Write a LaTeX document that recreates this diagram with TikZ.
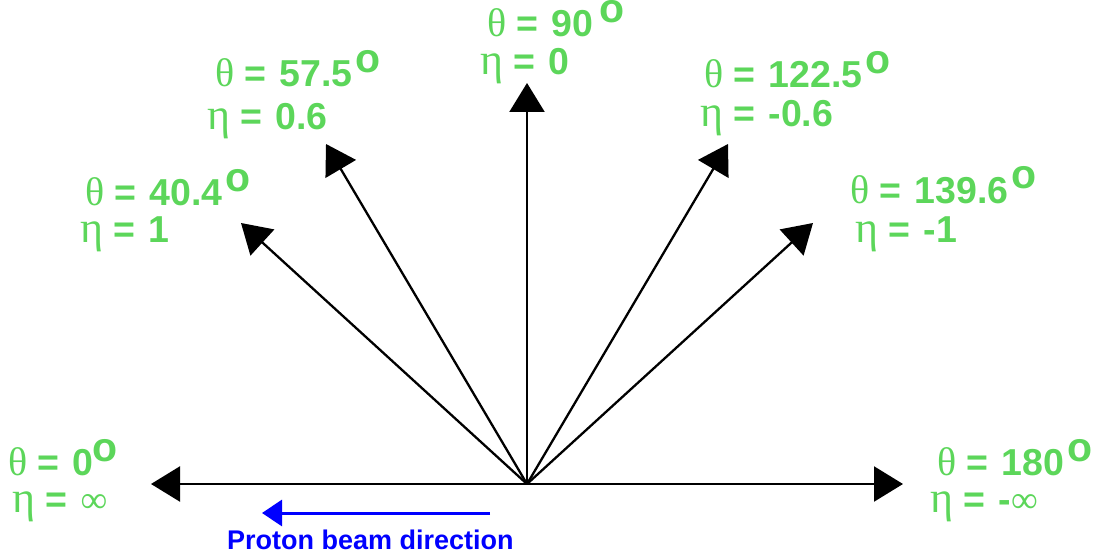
\documentclass[tikz,border=0pt]{standalone}
\usepackage{fontspec}
\setmainfont{Liberation Sans}
\newfontfamily\symf{Liberation Serif}
\usetikzlibrary{arrows.meta}
\definecolor{labgreen}{RGB}{92,214,90}
\definecolor{beamblue}{RGB}{0,0,255}
\newcommand\degsup[1][3pt]{\hspace{#1}\raisebox{14pt}{\fontsize{41}{41}\selectfont o}}
\newcommand\thx{{\symf\mdseries\fontsize{40}{40}\selectfont θ}\hspace{10pt}=\hspace{13.5pt}}
\newcommand\etx{{\symf\mdseries\fontsize{44}{44}\selectfont η}\hspace{10pt}=\hspace{13.5pt}}
\newcommand\infx{{\symf\mdseries ∞}}
\tikzset{
  lab/.style={text=labgreen, font=\bfseries\fontsize{37.5}{39}\selectfont, inner sep=0pt, anchor=base west},
  ray/.style={line width=2.3pt, -{Triangle[length=29pt,width=35pt]}},
  beam/.style={line width=3pt, beamblue, -{Triangle[length=20pt,width=26pt]}},
  beamtext/.style={text=beamblue, font=\bfseries\fontsize{27}{30}\selectfont, inner sep=0pt, anchor=base west}
}
\begin{document}
\begin{tikzpicture}[x=1pt,y=-1pt]
\useasboundingbox (0,0) rectangle (1103,559);
\coordinate (O) at (527,484);
\coordinate (L) at (151,484);
\coordinate (R) at (903,484);
\coordinate (U) at (527,83);
\coordinate (A40) at (241,223);
\coordinate (A57) at (326,144);
\coordinate (A122) at (728,144);
\coordinate (A139) at (813,223);
\draw[ray] (O) -- (L);
\draw[ray] (O) -- (R);
\draw[ray] (O) -- (U);
\draw[ray] (O) -- (A40);
\draw[ray] (O) -- (A57);
\draw[ray] (O) -- (A122);
\draw[ray] (O) -- (A139);
% labels
\node[lab] (t0) at (8,475) {\thx 0\degsup[-1pt]};
\node[lab] (e0) at (12,512) {\etx \infx};
\node[lab] (t180) at (937,475) {\thx 180\degsup};
\node[lab] (e180) at (930,512) {\etx -\infx};
\node[lab] (t90) at (487,37) {\thx 90\degsup[6pt]};
\node[lab] (e90) at (480,75) {\etx 0};
\node[lab] (t57) at (215,87) {\thx 57.5\degsup};
\node[lab] (e57) at (207,130) {\etx 0.6};
\node[lab] (t122) at (704,88) {\thx 122.5\degsup};
\node[lab] (e122) at (700,127) {\etx -0.6};
\node[lab] (t139) at (850,203) {\thx 139.6\degsup};
\node[lab] (e139) at (855,242) {\etx -1};
\node[lab] (t40) at (85,205) {\thx 40.4\degsup};
\node[lab] (e40) at (80,242) {\etx 1};
% beam
\coordinate (B1) at (490,513);
\coordinate (B2) at (262,513);
\draw[beam] (B1) -- (B2);
\node[beamtext] (bt) at (227,549) {Proton beam direction};
\end{tikzpicture}
\end{document}
